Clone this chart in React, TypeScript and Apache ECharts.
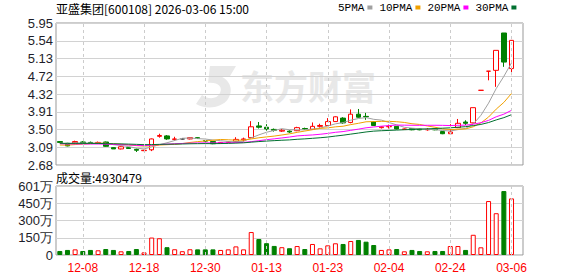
import React, { useEffect, useRef } from 'react';
import * as echarts from 'echarts';

const stockName = '亚盛集团';
const stockCode = '600108';
const stamp = '2026-03-06 15:00';

const dates = ['12-03','12-04','12-05','12-08','12-09','12-10','12-11','12-12','12-15','12-16','12-17','12-18','12-19','12-22','12-23','12-24','12-25','12-26','12-29','12-30','12-31','01-05','01-06','01-07','01-08','01-09','01-12','01-13','01-14','01-15','01-16','01-19','01-20','01-21','01-22','01-23','01-26','01-27','01-28','01-29','01-30','02-02','02-03','02-04','02-05','02-06','02-09','02-10','02-11','02-12','02-13','02-24','02-25','02-26','02-27','03-02','03-03','03-04','03-05','03-06'];

const xLabelDates = ['12-08','12-18','12-30','01-13','01-23','02-04','02-24','03-06'];

// [open, close, low, high]
const candles: number[][] = [
  [3.22,3.20,3.19,3.23],[3.18,3.12,3.11,3.19],[3.19,3.22,3.16,3.24],[3.21,3.19,3.18,3.23],[3.20,3.19,3.18,3.22],
  [3.19,3.20,3.18,3.22],[3.21,3.11,3.10,3.22],[3.08,3.05,3.05,3.09],[3.05,3.10,3.04,3.11],[3.08,3.06,3.05,3.09],
  [3.04,3.02,2.98,3.06],[3.01,3.02,3.00,3.03],[3.03,3.28,3.00,3.29],[3.34,3.36,3.31,3.40],[3.35,3.28,3.26,3.37],
  [3.27,3.28,3.24,3.33],[3.28,3.28,3.27,3.29],[3.28,3.31,3.27,3.32],[3.31,3.29,3.28,3.32],[3.24,3.23,3.20,3.26],
  [3.22,3.17,3.16,3.22],[3.18,3.20,3.17,3.21],[3.20,3.21,3.19,3.22],[3.22,3.27,3.21,3.32],[3.26,3.28,3.22,3.31],
  [3.31,3.56,3.30,3.69],[3.58,3.55,3.52,3.67],[3.55,3.51,3.47,3.62],[3.50,3.48,3.45,3.52],[3.46,3.48,3.44,3.51],
  [3.46,3.44,3.42,3.48],[3.47,3.54,3.46,3.56],[3.52,3.51,3.49,3.54],[3.50,3.57,3.49,3.66],[3.57,3.59,3.54,3.63],
  [3.59,3.68,3.58,3.76],[3.68,3.79,3.67,3.80],[3.76,3.65,3.63,3.78],[3.66,3.85,3.64,3.96],[3.85,3.78,3.77,3.97],
  [3.80,3.79,3.72,3.88],[3.67,3.59,3.58,3.68],[3.54,3.56,3.52,3.57],[3.56,3.57,3.52,3.61],[3.57,3.51,3.50,3.57],
  [3.50,3.51,3.49,3.52],[3.52,3.49,3.48,3.53],[3.51,3.49,3.48,3.52],[3.49,3.50,3.47,3.53],[3.51,3.49,3.48,3.52],
  [3.45,3.40,3.39,3.46],[3.40,3.44,3.39,3.62],[3.54,3.64,3.53,3.74],[3.67,3.64,3.60,3.71],[3.65,4.00,3.64,4.00],
  [4.40,4.40,4.40,4.40],[4.84,4.84,4.63,4.84],[4.86,5.32,4.48,5.32],[5.72,5.05,4.94,5.72],[4.90,5.55,4.75,5.56]
];

const volumes = [
  350000,440000,490000,350000,440000,410000,520000,440000,320000,350000,
  520000,230000,1520000,1460000,680000,500000,330000,500000,490000,490000,
  490000,440000,490000,750000,490000,2000000,1390000,1030000,790000,680000,
  590000,780000,520000,960000,580000,840000,1020000,960000,1220000,1310000,
  1160000,870000,440000,490000,520000,320000,440000,350000,320000,350000,
  350000,780000,780000,440000,1760000,670000,4700000,3640000,5570000,4930479
];

// closes of the sessions before 12-03 (estimated from the MA levels at the left edge)
const priorCloses = [
  3.22,3.18,3.21,3.19,3.23,3.20,3.17,3.21,3.19,3.20,
  3.22,3.24,3.21,3.18,3.20,3.19,3.17,3.21,3.19,3.19,
  3.14,3.10,3.07,3.09,3.10,3.14,3.17,3.19,3.20
];

const priceTicks = ['2.68','3.09','3.50','3.91','4.32','4.72','5.13','5.54','5.95'];
const volTicks = ['0','150万','300万','450万','601万'];
const volMax = 6010000;

const maPeriods = [5, 10, 20, 30];
const maNames = ['5PMA', '10PMA', '20PMA', '30PMA'];
const maColors = ['#a0a0a0', '#f0a000', '#ff00ff', '#007030'];

const UP = '#ff0000';
const DOWN = '#008000';

echarts.graphic.registerShape(
  'emLogo',
  echarts.graphic.extendPath(
    'M14 0 L40 0 L34 10 L24 10 C34 14 38 24 32 33 C26 42 10 44 0 38 L6 29 C13 34 21 33 24 27 C27 21 22 16 12 17 Z',
    {}
  )
);

function buildOption() {
  const closes = candles.map((c) => c[1]);
  const full = [...priorCloses, ...closes];
  const p = priorCloses.length;
  const maSeries = maPeriods.map((n, k) => {
    const data = closes.map((_, i) => {
      let s = 0;
      for (let j = p + i - n + 1; j <= p + i; j++) s += full[j];
      return +(s / n).toFixed(4);
    });
    return {
      name: maNames[k],
      type: 'line',
      xAxisIndex: 0,
      yAxisIndex: 0,
      data,
      showSymbol: false,
      symbol: 'none',
      color: maColors[k],
      itemStyle: { color: maColors[k] },
      lineStyle: { width: 1, color: maColors[k] },
      z: 4,
      silent: true,
    };
  });

  const candleData = candles.map((c, i) => {
    const prev = i > 0 ? candles[i - 1][1] : c[1];
    if (c[0] === c[1] && c[1] === prev) {
      return { value: c, itemStyle: { color: '#333333', borderColor: '#333333' } };
    }
    return { value: c };
  });

  const volData = volumes.map((v, i) => {
    const c = candles[i];
    const prev = i > 0 ? candles[i - 1][1] : c[1];
    const up = c[1] > c[0] || (c[1] === c[0] && c[1] >= prev);
    return {
      value: v,
      itemStyle: up
        ? { color: '#ffffff', borderColor: UP, borderWidth: 1 }
        : { color: DOWN, borderColor: DOWN, borderWidth: 1 },
    };
  });

  const cats = [...dates, ''];
  const blanks = cats.map(() => '-');
  const vLines = xLabelDates.map((d) => ({ xAxis: d }));
  const markLine = {
    silent: true,
    symbol: ['none', 'none'],
    label: { show: false },
    lineStyle: { type: [3, 3], color: '#cccccc', width: 1 },
    data: vLines,
  };

  const priceMin = parseFloat(priceTicks[0]);
  const priceMax = parseFloat(priceTicks[priceTicks.length - 1]);

  const labelFont = { fontFamily: 'Liberation Sans, Arial, sans-serif', fontSize: 13, color: '#1e1e2a' };

  return {
    animation: false,
    backgroundColor: '#ffffff',
    title: [
      {
        text: `${stockName}[${stockCode}] ${stamp}`,
        left: 56,
        top: 2,
        padding: 0,
        textStyle: { fontFamily: 'Noto Sans CJK SC', fontSize: 12, fontWeight: 'normal', color: '#000' },
      },
      {
        text: `成交量:${volumes[volumes.length - 1]}`,
        left: 56,
        top: 171,
        padding: 0,
        textStyle: { fontFamily: 'Noto Sans CJK SC', fontSize: 12, fontWeight: 'normal', color: '#000' },
      },
    ],
    legend: {
      data: maNames,
      left: 338,
      top: 2,
      padding: 0,
      align: 'right',
      icon: 'rect',
      itemWidth: 5,
      itemHeight: 4,
      itemGap: 7,
      selectedMode: false,
      textStyle: { fontFamily: 'Liberation Mono, monospace', fontSize: 11, color: '#000', padding: [0, -2, 0, 0] },
    },
    graphic: [
      { type: 'emLogo', x: 196, y: 66, scaleX: 1, scaleY: 1, z: 0, silent: true, style: { fill: '#e8e8e8' } },
      {
        type: 'text',
        x: 240,
        y: 68,
        z: 0,
        silent: true,
        style: { text: '东方财富', fontSize: 34, fontWeight: 'bold', fontFamily: 'Noto Sans CJK SC', fill: '#e8e8e8' },
      },
    ],
    grid: [
      { left: 56, top: 23, width: 467, height: 142, show: true, borderColor: '#999999', borderWidth: 1, backgroundColor: 'transparent' },
      { left: 56, top: 186, width: 467, height: 69, show: true, borderColor: '#999999', borderWidth: 1, backgroundColor: 'transparent' },
    ],
    xAxis: [
      {
        type: 'category', gridIndex: 0, data: cats, boundaryGap: true,
        axisLine: { show: false }, axisTick: { show: false }, axisLabel: { show: false }, splitLine: { show: false },
      },
      {
        type: 'category', gridIndex: 1, data: cats, boundaryGap: true,
        axisLine: { show: false }, axisTick: { show: false }, splitLine: { show: false },
        axisLabel: {
          interval: (_i: number, v: string) => xLabelDates.includes(v),
          color: '#ff0000', fontSize: 12, fontFamily: 'Liberation Sans, Arial, sans-serif', margin: 7,
        },
      },
    ],
    yAxis: [
      { type: 'value', gridIndex: 0, min: priceMin, max: priceMax, show: false, splitLine: { show: false } },
      {
        type: 'value', gridIndex: 0, min: 0, max: priceTicks.length - 1, interval: 1, position: 'left',
        axisLine: { show: false }, axisTick: { show: false },
        axisLabel: { ...labelFont, margin: 3, formatter: (v: number) => priceTicks[Math.round(v)] },
        splitLine: { show: true, lineStyle: { color: '#d2d2d2', width: 1 } },
      },
      { type: 'value', gridIndex: 1, min: 0, max: volMax, show: false, splitLine: { show: false } },
      {
        type: 'value', gridIndex: 1, min: 0, max: volTicks.length - 1, interval: 1, position: 'left',
        axisLine: { show: false }, axisTick: { show: false },
        axisLabel: { ...labelFont, margin: 3, formatter: (v: number) => volTicks[Math.round(v)] },
        splitLine: { show: true, lineStyle: { color: '#d2d2d2', width: 1 } },
      },
    ],
    series: [
      { type: 'line', xAxisIndex: 0, yAxisIndex: 0, data: blanks, symbol: 'none', z: 1, silent: true, markLine },
      { type: 'line', xAxisIndex: 1, yAxisIndex: 2, data: blanks, symbol: 'none', z: 1, silent: true, markLine },
      {
        type: 'candlestick',
        xAxisIndex: 0,
        yAxisIndex: 0,
        data: candleData,
        barWidth: 5,
        z: 3,
        itemStyle: { color: '#ffffff', color0: DOWN, borderColor: UP, borderColor0: DOWN, borderWidth: 1 },
      },
      ...maSeries,
      {
        type: 'bar',
        xAxisIndex: 1,
        yAxisIndex: 2,
        data: volData,
        barWidth: 5,
        z: 3,
      },
    ],
  };
}

export default function App() {
  const ref = useRef<HTMLDivElement>(null);
  useEffect(() => {
    document.body.style.margin = '0';
    const chart = echarts.init(ref.current!, undefined, { renderer: 'svg' });
    chart.setOption(buildOption() as any);
    return () => chart.dispose();
  }, []);
  return <div ref={ref} style={{ width: 578, height: 276 }} />;
}
